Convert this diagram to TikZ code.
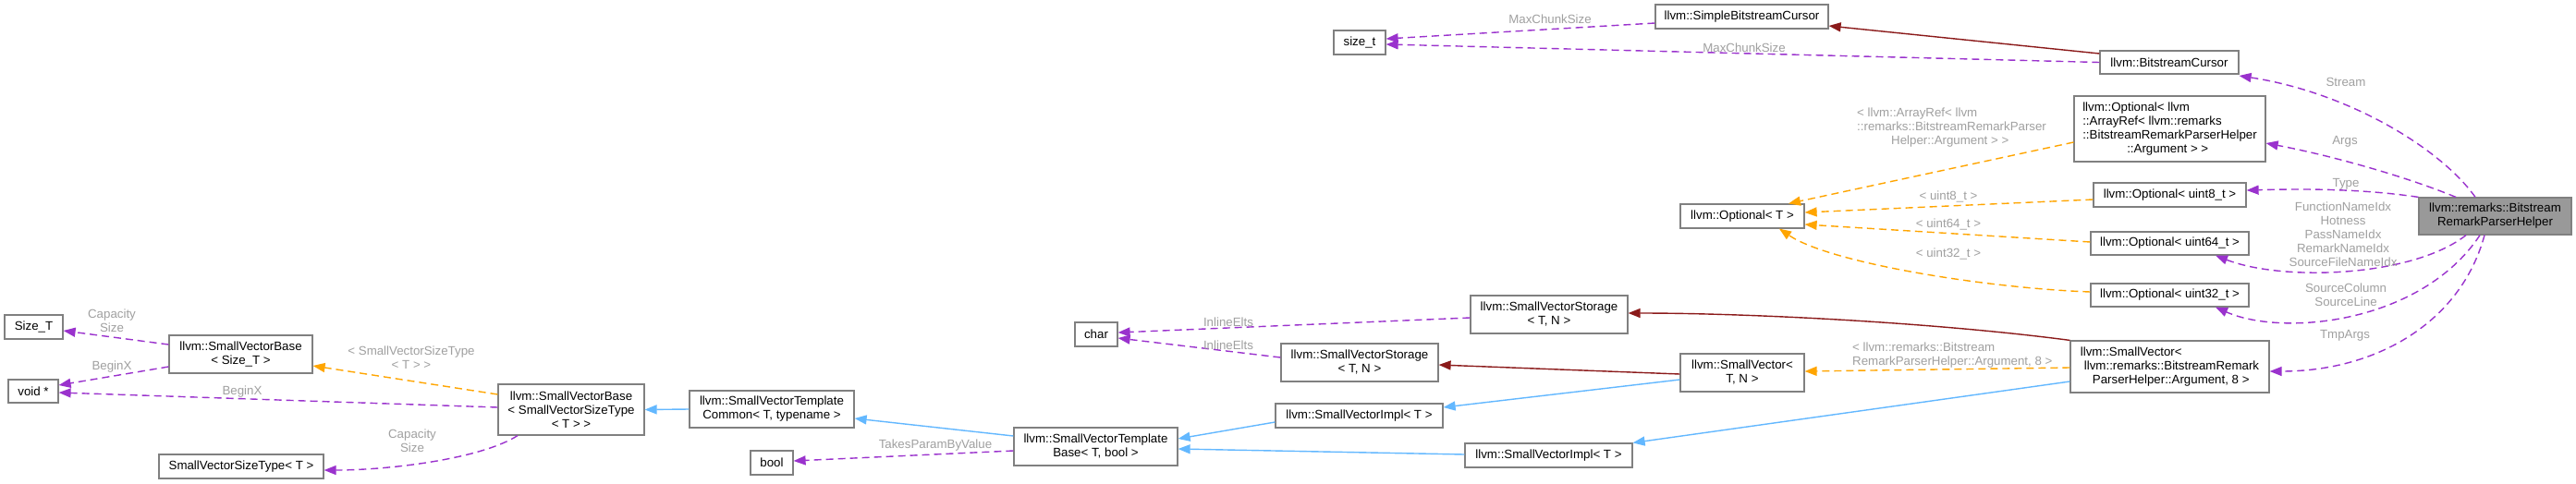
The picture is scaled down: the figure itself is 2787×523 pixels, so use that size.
\documentclass[tikz,border=0pt]{standalone}
\usepackage{fontspec}
\setmainfont{Liberation Sans}
\usetikzlibrary{arrows.meta}
\definecolor{BoxLine}{HTML}{808080}
\definecolor{HelperFill}{HTML}{999999}
\definecolor{UseLine}{HTML}{9A32CD}
\definecolor{TplLine}{HTML}{FFA500}
\definecolor{PubLine}{HTML}{63B8FF}
\definecolor{PrivLine}{HTML}{8B1A1A}
\definecolor{LabelGray}{HTML}{A0A0A0}
\tikzset{
  cls/.style 2 args={
    draw=BoxLine,
    fill=white,
    line width=1.2pt,
    inner sep=0pt,
    minimum width=#1pt,
    minimum height=#2pt,
    align=center,
    font=\fontsize{13.3}{15}\selectfont
  },
  edgelbl/.style={
    text=LabelGray,
    inner sep=0pt,
    align=center,
    font=\fontsize{13.3}{15}\selectfont
  },
  headtip/.style={-{Triangle[length=13pt,width=10pt]}},
  usage/.style={headtip, draw=UseLine, line width=1.4pt, dash pattern=on 8pt off 5pt},
  tmpl/.style={headtip, draw=TplLine, line width=1.4pt, dash pattern=on 8pt off 5pt},
  pubinh/.style={headtip, draw=PubLine, line width=1.4pt},
  privinh/.style={headtip, draw=PrivLine, line width=1.4pt}
}

\begin{document}
\begin{tikzpicture}[x=1pt,y=-1pt]
  \useasboundingbox[fill=white] (0,0) rectangle (2787,523);

  \node[cls={63}{26}] (sizeT) at (36.5,354) {Size\_T};
  \node[cls={155}{41}] (svbaseSizeT) at (260.5,383.5) {llvm::SmallVectorBase\\< Size\_T >};
  \node[cls={54}{25}] (voidp) at (36,423.5) {void *};
  \node[cls={158}{55}] (svbase) at (618,443.5) {llvm::SmallVectorBase\\< SmallVectorSizeType\\< T > >};
  \node[cls={178}{26}] (svsizetype) at (261,505) {SmallVectorSizeType< T >};
  \node[cls={178}{40}] (tplcommon) at (835,443) {llvm::SmallVectorTemplate\\Common< T, typename >};
  \node[cls={46}{26}] (boolnode) at (835,501) {bool};
  \node[cls={177}{41}] (tplbase) at (1185.5,483.5) {llvm::SmallVectorTemplate\\Base< T, bool >};
  \node[cls={46}{26}] (charnode) at (1186,362) {char};
  \node[cls={170}{41}] (storageB) at (1676,340.5) {llvm::SmallVectorStorage\\< T, N >};
  \node[cls={170}{41}] (storageA) at (1471,392.5) {llvm::SmallVectorStorage\\< T, N >};
  \node[cls={181}{26}] (implA) at (1470.5,450) {llvm::SmallVectorImpl< T >};
  \node[cls={181}{26}] (implB) at (1675.5,493) {llvm::SmallVectorImpl< T >};
  \node[cls={134}{41}] (smallvec) at (1885,403.5) {llvm::SmallVector<\\T, N >};
  \node[cls={56}{26}] (sizet) at (1471,46) {size\_t};
  \node[cls={187}{26}] (simplecursor) at (1884.5,18) {llvm::SimpleBitstreamCursor};
  \node[cls={150}{25}] (cursor) at (2347,67.5) {llvm::BitstreamCursor};
  \node[cls={207}{71}, align=left] (optArgs) at (2347.5,139.5) {llvm::Optional< llvm\\::ArrayRef< llvm::remarks\\::BitstreamRemarkParserHelper\\\hspace*{48pt}::Argument > >};
  \node[cls={134}{26}] (optT) at (1885,234) {llvm::Optional< T >};
  \node[cls={165}{26}] (opt8) at (2347.5,211) {llvm::Optional< uint8\_t >};
  \node[cls={171}{25}] (opt64) at (2347.5,263.5) {llvm::Optional< uint64\_t >};
  \node[cls={171}{25}] (opt32) at (2347.5,319.5) {llvm::Optional< uint32\_t >};
  \node[cls={215}{56}, align=left] (svArgs) at (2347.5,397) {llvm::SmallVector<\\\hspace*{4pt}llvm::remarks::BitstreamRemark\\\hspace*{13pt}ParserHelper::Argument, 8 >};
  \node[cls={165}{40}, fill=HelperFill] (helper) at (2699.5,234) {llvm::remarks::Bitstream\\RemarkParserHelper};

  \draw[usage] ([yshift=10.5pt]svbaseSizeT.west) -- ([yshift=-4pt]sizeT.east);
  \draw[usage] ([yshift=-13.5pt]svbaseSizeT.west) -- ([yshift=6.5pt]voidp.east);
  \draw[usage] ([yshift=2.5pt]svbase.west) -- ([yshift=-1.5pt]voidp.east);
  \draw[tmpl] ([yshift=16.5pt]svbase.west) -- ([yshift=-12.5pt]svbaseSizeT.east);
  \draw[usage] ([xshift=-58pt]svbase.south) .. controls (520,497) and (420,509) .. ([yshift=-4pt]svsizetype.east);
  \draw[pubinh] (tplcommon.west) -- (svbase.east);
  \draw[pubinh] ([yshift=11.5pt]tplbase.west) -- ([yshift=-10pt]tplcommon.east);
  \draw[usage] ([yshift=-4.5pt]tplbase.west) -- ([yshift=2pt]boolnode.east);
  \draw[pubinh] ([yshift=-7pt]implA.west) -- ([yshift=8.5pt]tplbase.east);
  \draw[pubinh] ([yshift=1pt]implB.west) -- ([yshift=-2.5pt]tplbase.east);
  \draw[usage] ([yshift=-3.5pt]storageB.west) -- ([yshift=2pt]charnode.east);
  \draw[usage] ([yshift=5.5pt]storageA.west) -- ([yshift=-4pt]charnode.east);
  \draw[privinh] ([yshift=-1.5pt]smallvec.west) -- ([yshift=-2.5pt]storageA.east);
  \draw[pubinh] ([yshift=-7.5pt]smallvec.west) -- ([yshift=9pt]implA.east);
  \draw[privinh] (svArgs.north west) .. controls (2100,350) and (1900,339) .. ([yshift=1.5pt]storageB.east);
  \draw[pubinh] ([yshift=-16pt]svArgs.west) -- (implB.north east);
  \draw[tmpl] ([yshift=-1pt]svArgs.west) -- ([yshift=1.5pt]smallvec.east);
  \draw[usage] ([xshift=-11.5pt]helper.south) .. controls (2662,350) and (2570,402) .. ([yshift=-5pt]svArgs.east);
  \draw[usage] ([xshift=-16.5pt]helper.south) .. controls (2620,350) and (2470,365) .. ([xshift=49.5pt]opt32.south);
  \draw[usage] ([xshift=-31.5pt]helper.south) .. controls (2610,300) and (2470,305) .. ([xshift=49.5pt]opt64.south);
  \draw[usage] (helper.north west) .. controls (2560,205) and (2500,204) .. ([yshift=5pt]opt8.east);
  \draw[usage] ([xshift=-42.5pt]helper.north) .. controls (2600,190) and (2520,168) .. ([yshift=-15.5pt]optArgs.east);
  \draw[usage] ([xshift=-21.5pt]helper.north) .. controls (2640,160) and (2540,100) .. ([yshift=-14.5pt]cursor.east);
  \draw[privinh] ([yshift=9.5pt]cursor.west) -- ([yshift=-10pt]simplecursor.east);
  \draw[usage] ([yshift=-7pt]simplecursor.west) -- ([yshift=4pt]sizet.east);
  \draw[usage] (cursor.west) -- ([yshift=-2pt]sizet.east);
  \draw[tmpl] ([yshift=-14.5pt]optArgs.west) -- ([xshift=50pt]optT.north);
  \draw[tmpl] ([yshift=-5pt]opt8.west) -- ([yshift=4pt]optT.east);
  \draw[tmpl] ([yshift=1.5pt]opt64.west) -- ([yshift=-9pt]optT.east);
  \draw[tmpl] ([yshift=3.5pt]opt32.west) .. controls (2150,312) and (1980,285) .. ([xshift=40pt]optT.south);

  \node[edgelbl] (lblCapA) at (121,347) {Capacity\\Size};
  \node[edgelbl] (lblBeginA) at (121,397) {BeginX};
  \node[edgelbl] (lblBeginB) at (262,424) {BeginX};
  \node[edgelbl] (lblSizeType) at (445,387) {< SmallVectorSizeType\\< T > >};
  \node[edgelbl] (lblCapB) at (446,477) {Capacity\\Size};
  \node[edgelbl] (lblParam) at (1012,482) {TakesParamByValue};
  \node[edgelbl] (lblInlineB) at (1329,349) {InlineElts};
  \node[edgelbl] (lblInlineA) at (1329,374) {InlineElts};
  \node[edgelbl] (lblChunkA) at (1677,21) {MaxChunkSize};
  \node[edgelbl] (lblChunkB) at (1887,52) {MaxChunkSize};
  \node[edgelbl, align=left, anchor=west] (lblArrayRef) at (2009,138) {< llvm::ArrayRef< llvm\\::remarks::BitstreamRemarkParser\\\hspace*{37pt}Helper::Argument > >};
  \node[edgelbl] (lblEight) at (2108,213) {< uint8\_t >};
  \node[edgelbl] (lblSixtyFour) at (2108,243) {< uint64\_t >};
  \node[edgelbl] (lblThirtyTwo) at (2108,275) {< uint32\_t >};
  \node[edgelbl, align=left, anchor=west] (lblArgVec) at (2004,385) {< llvm::remarks::Bitstream\\RemarkParserHelper::Argument, 8 >};
  \node[edgelbl] (lblStream) at (2538,89) {Stream};
  \node[edgelbl] (lblArgs) at (2537,153) {Args};
  \node[edgelbl] (lblType) at (2538,199) {Type};
  \node[edgelbl] (lblIdx) at (2535,254) {FunctionNameIdx\\Hotness\\PassNameIdx\\RemarkNameIdx\\SourceFileNameIdx};
  \node[edgelbl] (lblSource) at (2538,319) {SourceColumn\\SourceLine};
  \node[edgelbl] (lblTmp) at (2537,363) {TmpArgs};
\end{tikzpicture}
\end{document}
